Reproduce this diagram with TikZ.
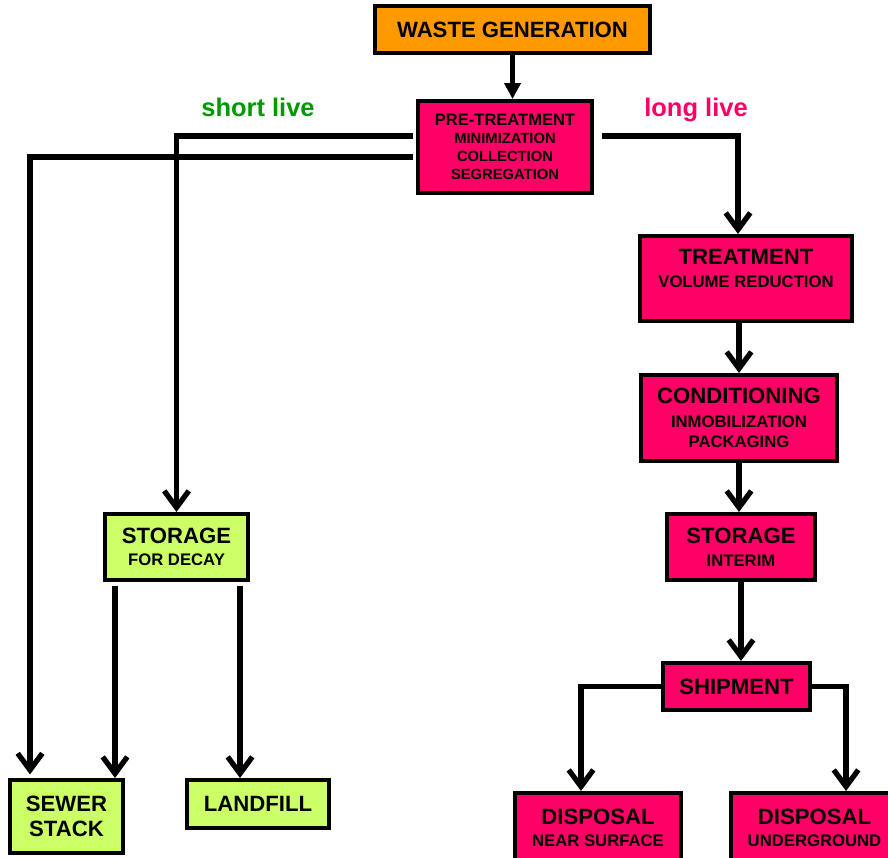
\documentclass[tikz,border=0pt]{standalone}
\usepackage{fontspec}
\setmainfont{Liberation Sans}
\usetikzlibrary{positioning}
\usetikzlibrary{calc}
\usetikzlibrary{arrows.meta}
\definecolor{wasteorange}{RGB}{255,153,0}
\definecolor{hotpink}{RGB}{255,0,102}
\definecolor{lime}{RGB}{204,255,102}
\definecolor{livegreen}{RGB}{0,153,0}
\newcommand{\subline}{\fontsize{9.5}{11.5}\selectfont}
\tikzset{
  box/.style={draw, line width=2.3pt, align=center, inner sep=0pt,
    font=\bfseries\fontsize{12.6}{14.5}\selectfont},
  longbox/.style={box, fill=hotpink},
  shortbox/.style={box, fill=lime},
  flow/.style={line width=3pt, -{Straight Barb[length=9.5pt, width=14pt]}},
  lbl/.style={font=\bfseries\fontsize{14.5}{16}\selectfont},
}

\begin{document}
\begin{tikzpicture}
    \useasboundingbox (0,0) rectangle (17.76,-17.14);

    % source and pre-treatment
    \node[box, fill=wasteorange, minimum width=5.5cm, minimum height=0.94cm] (waste) at (10.25,-0.59) {WASTE GENERATION};
    \node[longbox, minimum width=3.48cm, minimum height=1.84cm, font=\bfseries\fontsize{8.4}{10.2}\selectfont] (pre) at (10.10,-2.94)
        {{\fontsize{9.4}{10.5}\selectfont PRE-TREATMENT}\\MINIMIZATION\\COLLECTION\\SEGREGATION};
    \node[lbl, livegreen] (short) at (5.16,-2.14) {short live};
    \node[lbl, hotpink] (long) at (13.92,-2.2) {long live};

    % long live branch
    \node[longbox, minimum width=4.24cm, minimum height=1.7cm] (treat) at (14.92,-5.57)
        {TREATMENT\\[-1.5pt]{\subline VOLUME REDUCTION}\\[-2.5pt]\mbox{}};
    \node[longbox, minimum width=3.92cm, minimum height=1.72cm] (cond) at (14.78,-8.36)
        {CONDITIONING\\[-1pt]{\subline INMOBILIZATION}\\[-3.2pt]{\subline PACKAGING}};
    \node[longbox, minimum width=2.96cm, minimum height=1.32cm] (interim) at (14.82,-10.94)
        {STORAGE\\[-1.5pt]{\subline INTERIM}};
    \node[longbox, minimum width=2.94cm, minimum height=0.94cm] (ship) at (14.73,-13.73) {SHIPMENT};
    \node[longbox, minimum width=3.32cm, minimum height=1.38cm] (near) at (11.96,-16.55)
        {DISPOSAL\\[-2pt]{\subline NEAR SURFACE}};
    \node[longbox, minimum width=3.34cm, minimum height=1.38cm] (under) at (16.29,-16.55)
        {DISPOSAL\\[-2pt]{\subline UNDERGROUND}};

    % short live branch
    \node[shortbox, minimum width=2.86cm, minimum height=1.32cm] (decay) at (3.53,-10.94)
        {STORAGE\\[-2pt]{\subline FOR DECAY}};
    \node[shortbox, minimum width=2.26cm, minimum height=1.46cm] (sewer) at (1.33,-16.33) {SEWER\\STACK};
    \node[shortbox, minimum width=2.84cm, minimum height=0.96cm] (landfill) at (5.16,-16.08) {LANDFILL};

    % connectors
    \draw[line width=3pt, -{Triangle[length=9pt, width=9pt]}] (waste.south) -- (waste.south |- pre.north);
    \draw[flow] ([xshift=-0.06cm, yshift=0.22cm]pre.west) -| (decay.north);
    \draw[flow, shorten >=2pt] ([xshift=-0.06cm, yshift=-0.2cm]pre.west) -| ([xshift=-0.73cm]sewer.north);
    \draw[flow] ([xshift=0.16cm, yshift=0.22cm]pre.east) -| ([xshift=-0.16cm]treat.north);
    \draw[flow] (cond.north |- treat.south) -- (cond.north);
    \draw[flow] (cond.south) -- (cond.south |- interim.north);
    \draw[flow] (interim.south) -- (interim.south |- ship.north);
    \draw[flow] (ship.west) -| ([xshift=-0.34cm]near.north);
    \draw[flow] (ship.east) -| ([xshift=0.63cm]under.north);
    \draw[flow] ([xshift=-1.23cm, yshift=-0.08cm]decay.south) -- ([xshift=-1.23cm]decay.south |- sewer.north);
    \draw[flow] ([xshift=1.27cm, yshift=-0.08cm]decay.south) -- ([xshift=1.27cm]decay.south |- landfill.north);
\end{tikzpicture}
\end{document}
